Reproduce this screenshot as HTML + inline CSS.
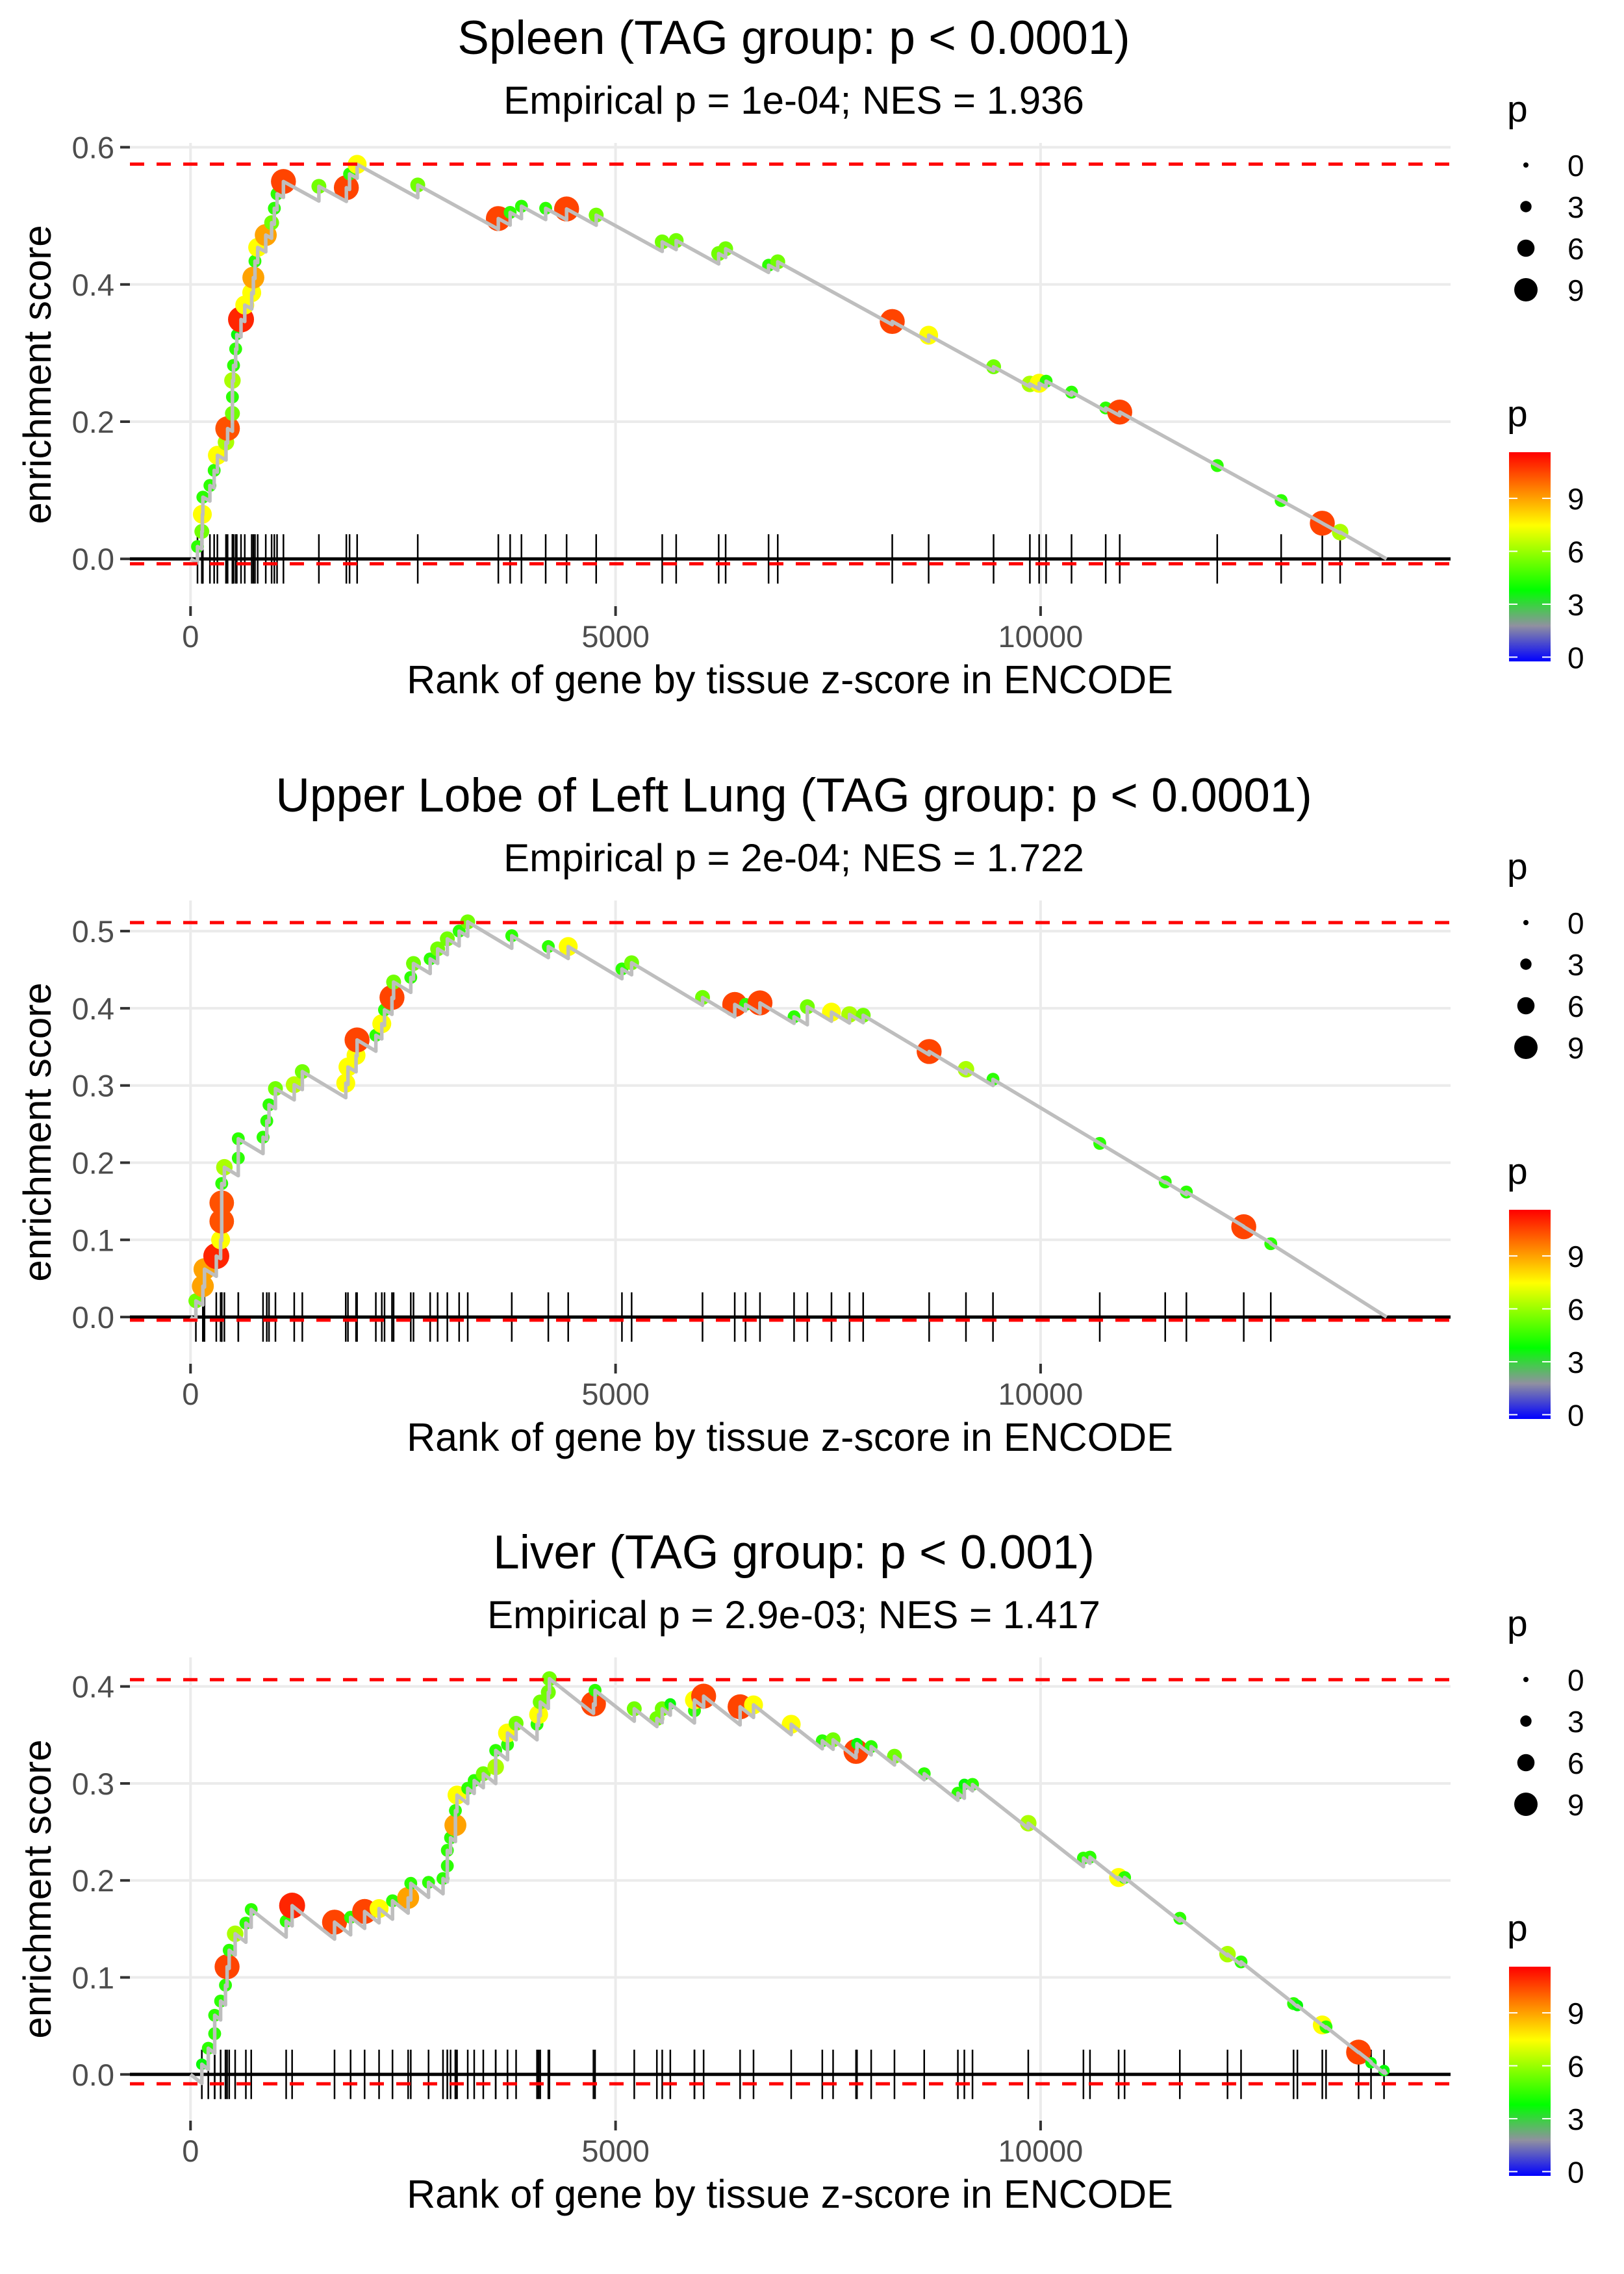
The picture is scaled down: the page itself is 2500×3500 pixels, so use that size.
<!DOCTYPE html>
<html><head><meta charset="utf-8">
<style>
html,body{margin:0;padding:0;background:#fff;}
svg{display:block;font-family:"Liberation Sans",Arial,sans-serif;}
</style></head>
<body>
<svg id="chart" width="2500" height="3500" viewBox="0 0 2500 3500" xmlns="http://www.w3.org/2000/svg">
<defs>
<linearGradient id="pgrad" x1="0" y1="1" x2="0" y2="0">
<stop offset="0" stop-color="#0000ff"/>
<stop offset="0.17" stop-color="#9090a0"/>
<stop offset="0.34" stop-color="#00ff00"/>
<stop offset="0.65" stop-color="#ffff00"/>
<stop offset="1" stop-color="#ff0000"/>
</linearGradient>
</defs>
</svg>
<script>
// ---------- data ----------
const titles = ["Spleen (TAG group: p < 0.0001)", "Upper Lobe of Left Lung (TAG group: p < 0.0001)", "Liver (TAG group: p < 0.001)"];
const subtitles = ["Empirical p = 1e-04; NES = 1.936", "Empirical p = 2e-04; NES = 1.722", "Empirical p = 2.9e-03; NES = 1.417"];
const xTicks = [0, 5000, 10000];
const yTicks1 = [0, 0.2, 0.4, 0.6];
const yTicks2 = [0, 0.1, 0.2, 0.3, 0.4, 0.5];
const yTicks3 = [0, 0.1, 0.2, 0.3, 0.4];
const esMax = [0.5753, 0.511, 0.407];
const esMin = [-0.0072, -0.004, -0.0097];
const decline = [0.000068, 0.000066, 0.000069];
const endRank = 14070;
const sizeLegendVals = [0, 3, 6, 9];
const colorLegendVals = [0, 3, 6, 9];

const rank1 = [82,133,139,145,228,278,316,417,436,493,493,493,506,531,544,594,638,720,739,758,790,885,954,986,1018,1093,1510,1833,1871,1960,2673,3621,3760,3893,4178,4424,4772,5549,5713,6213,6295,6800,6908,8255,8683,9447,9874,9983,10065,10364,10766,10931,12078,12830,13314,13524];
const es1 = [0.018,0.04,0.065,0.09,0.107,0.129,0.151,0.17,0.19,0.212,0.236,0.26,0.282,0.306,0.327,0.349,0.37,0.388,0.41,0.434,0.454,0.472,0.49,0.511,0.532,0.55,0.543,0.541,0.561,0.575,0.545,0.496,0.505,0.514,0.511,0.51,0.501,0.462,0.464,0.445,0.452,0.428,0.433,0.346,0.326,0.28,0.255,0.256,0.259,0.243,0.22,0.214,0.136,0.085,0.052,0.039];
const p1 = [4.5,5.5,7.5,4.5,4.5,4.5,7.5,6.3,10.3,5.5,4.5,6.3,4.5,4.5,3.8,11,7.5,7.5,9,4.5,7.5,9,5.5,4.5,4.5,10.5,5.5,10.5,4.5,7.5,5.5,10.5,4.5,4.5,4.5,10.5,5.5,5.5,5.5,5.5,5.5,4.5,5.5,10.5,7.5,5.5,6.3,7.5,4.5,4.5,4.5,10.5,4.5,4.5,10.5,6.3];

const rank2 = [63,145,164,303,354,367,367,367,398,562,562,853,897,923,999,1220,1315,1826,1852,1947,1959,2180,2250,2282,2370,2389,2591,2623,2819,2907,3021,3160,3261,3779,4209,4443,5075,5189,6023,6402,6529,6699,7100,7256,7540,7752,7913,8689,9122,9440,10696,11466,11715,12390,12708];
const es2 = [0.021,0.04,0.062,0.079,0.1,0.124,0.148,0.173,0.194,0.206,0.231,0.233,0.254,0.275,0.296,0.301,0.318,0.303,0.324,0.339,0.359,0.365,0.38,0.398,0.414,0.434,0.44,0.458,0.464,0.477,0.49,0.5,0.512,0.494,0.48,0.48,0.451,0.459,0.414,0.405,0.405,0.407,0.389,0.402,0.395,0.392,0.391,0.344,0.321,0.308,0.225,0.175,0.162,0.117,0.095];
const p2 = [5.5,9,9,11,7.5,10.3,10.3,4.5,6.3,4.5,4.5,4.5,4.5,4.5,5.5,6.5,5.5,7.5,7.5,7.5,10.5,4.5,7.5,4.5,10.5,5.5,4.5,5.5,4.5,5.5,5.5,4.5,5.5,4.5,4.5,7.5,4.5,5.5,5.5,10.5,4.5,10.5,4.5,5.5,7.5,6.3,5.5,10.5,6.3,4.5,4.5,4.5,4.5,10.5,4.5];

const rank3 = [133,209,284,284,354,411,430,455,525,651,714,1125,1195,1694,1883,2048,2218,2376,2560,2591,2800,2970,3021,3021,3059,3116,3116,3135,3261,3337,3444,3590,3590,3729,3729,3830,4076,4095,4114,4209,4222,4740,4759,5220,5486,5549,5644,5928,5928,6036,6465,6623,7066,7432,7559,7829,7840,8007,8281,8631,9027,9103,9199,9855,10504,10581,10918,10988,11638,12199,12358,12976,13021,13314,13358,13741,13887,14040];
const es3 = [0.0105,0.027,0.042,0.061,0.0756,0.092,0.111,0.128,0.145,0.156,0.17,0.158,0.174,0.157,0.162,0.168,0.171,0.179,0.182,0.197,0.198,0.202,0.215,0.231,0.244,0.257,0.272,0.288,0.295,0.303,0.31,0.317,0.334,0.34,0.352,0.362,0.361,0.371,0.384,0.394,0.408,0.382,0.396,0.377,0.367,0.377,0.382,0.375,0.386,0.39,0.379,0.381,0.361,0.344,0.345,0.333,0.341,0.338,0.328,0.31,0.29,0.299,0.299,0.259,0.223,0.224,0.203,0.203,0.161,0.124,0.116,0.073,0.071,0.051,0.049,0.023,0.012,0.004];
const p3 = [3.8,4.5,4.5,4.5,4.5,4.5,10.5,4.5,6.3,4.5,4.5,4.5,11,10.5,4.5,10.5,7.5,4.5,9,4.5,4.5,4.5,4.5,4.5,4.5,9,4.5,7.5,4.5,4.5,5.5,6.3,4.5,4.5,7.5,5.5,4.5,7.5,5.5,5.5,5.5,10.5,4.5,5.5,5.5,5.5,3.8,4.5,7.5,10.5,10.5,7.5,7.5,4.5,5.5,10.5,3.8,4.5,5.5,4.5,4.5,3.8,4.5,6.3,4.5,4.5,7.5,4.5,4.5,6.3,4.5,4.5,3.8,7.5,4.5,10.5,3.8,3.8];

// ---------- layout ----------
const NS = "http://www.w3.org/2000/svg";
const svg = document.getElementById("chart");
const PL = 200, PR = 2233, PH = 713;
const panelTops = [220, 1386, 2551];
const zeroY = [860.2, 2027.1, 3192.8];
const pxPerUnit = [1056, 1188, 1492.8];
const allRanks = [rank1, rank2, rank3];
const allEs = [es1, es2, es3];
const allP = [p1, p2, p3];
const allYTicks = [yTicks1, yTicks2, yTicks3];

function X(r) { return 293.3 + 0.13086 * r; }
function mk(tag, attrs, parent) {
  const e = document.createElementNS(NS, tag);
  for (const k in attrs) e.setAttribute(k, attrs[k]);
  (parent || svg).appendChild(e);
  return e;
}
const stops = [[0,[0,0,255]],[2.0,[144,144,160]],[3.9,[0,255,0]],[7.5,[255,255,0]],[11.6,[255,0,0]]];
function pColor(v) {
  if (v <= stops[0][0]) return "rgb(0,0,255)";
  for (let i = 1; i < stops.length; i++) {
    if (v <= stops[i][0]) {
      const t = (v - stops[i-1][0]) / (stops[i][0] - stops[i-1][0]);
      const a = stops[i-1][1], b = stops[i][1];
      return "rgb(" + a.map((c, j) => Math.round(c + (b[j] - c) * t)).join(",") + ")";
    }
  }
  return "rgb(255,0,0)";
}
function pRadius(v) { return 4.5 + 1.55 * Math.max(v - 1, 0); }

for (let k = 0; k < 3; k++) {
  const top = panelTops[k], bot = top + PH;
  const Y = es => zeroY[k] - pxPerUnit[k] * es;
  const g = mk("g", {});
  
  

  const t = mk("text", {x: 1222, y: top - 137, "text-anchor": "middle", "font-size": 73, fill: "#000"}, g);
  t.textContent = titles[k];
  
  
  const st = mk("text", {x: 1222, y: top - 45, "text-anchor": "middle", "font-size": 60, fill: "#000"}, g);
  st.textContent = subtitles[k];
  
  

  for (const v of allYTicks[k]) {
    const gl = mk("line", {x1: PL, x2: PR, y1: Y(v), y2: Y(v), stroke: "#ebebeb", "stroke-width": 4}, g);
    
    
    const tk = mk("line", {x1: 185, x2: 200, y1: Y(v), y2: Y(v), stroke: "#333", "stroke-width": 4}, g);
    
    
    const lb = mk("text", {x: 176, y: Y(v) + 17, "text-anchor": "end", "font-size": 47, fill: "#4d4d4d"}, g);
    lb.textContent = v.toFixed(1);
    
    
  }
  for (const v of xTicks) {
    const gl = mk("line", {x1: X(v), x2: X(v), y1: top, y2: bot, stroke: "#ebebeb", "stroke-width": 4}, g);
    
    
    const tk = mk("line", {x1: X(v), x2: X(v), y1: bot, y2: bot + 15, stroke: "#333", "stroke-width": 4}, g);
    
    
    const lb = mk("text", {x: X(v), y: bot + 63, "text-anchor": "middle", "font-size": 47, fill: "#4d4d4d"}, g);
    lb.textContent = String(v);
    
    
  }
  const xt = mk("text", {x: 1216, y: bot + 134, "text-anchor": "middle", "font-size": 61, fill: "#000"}, g);
  xt.textContent = "Rank of gene by tissue z-score in ENCODE";
  
  
  const yt = mk("text", {x: 0, y: 0, "text-anchor": "middle", "font-size": 60, fill: "#000", transform: "translate(78," + (top + PH / 2) + ") rotate(-90)"}, g);
  yt.textContent = "enrichment score";
  
  

  const zl = mk("line", {x1: PL, x2: PR, y1: Y(0), y2: Y(0), stroke: "#000", "stroke-width": 5}, g);
  
  

  const R = allRanks[k], E = allEs[k], P = allP[k];
  for (let i = 0; i < R.length; i++) {
    const rl = mk("line", {x1: X(R[i]), x2: X(R[i]), y1: Y(0) - 38, y2: Y(0) + 38, stroke: "#000", "stroke-width": 2.5}, g);
    
    
  }
  for (let i = 0; i < R.length; i++) {
    const c = mk("circle", {cx: X(R[i]), cy: Y(E[i]), r: pRadius(P[i]), fill: pColor(P[i])}, g);
    
    
  }
  let d = "M" + X(0) + "," + Y(0);
  let prevR = 0, prevE = 0;
  const pre = [];
  for (let i = 0; i < R.length; i++) {
    const pe = prevE - decline[k] * (R[i] - prevR);
    pre.push(pe);
    d += " L" + X(R[i]).toFixed(1) + "," + Y(pe).toFixed(1) + " L" + X(R[i]).toFixed(1) + "," + Y(E[i]).toFixed(1);
    prevR = R[i]; prevE = E[i];
  }
  d += " L" + X(endRank) + "," + Y(0);
  for (let i = 0; i < R.length; i++) {
    const b = mk("circle", {cx: X(R[i]), cy: Y(pre[i]), r: 2.5, fill: "#0000ff"}, g);
    
    
  }
  const ln = mk("path", {d: d, fill: "none", stroke: "#bebebe", "stroke-width": 5.5, "stroke-linejoin": "round"}, g);
  
  

  for (const v of [esMax[k], esMin[k]]) {
    const dl = mk("line", {x1: PL, x2: PR, y1: Y(v), y2: Y(v), stroke: "#ff0000", "stroke-width": 5, "stroke-dasharray": "22,19"}, g);
    
    
  }

  const lg = mk("g", {}, g);
  
  
  const lt = mk("text", {x: 2320, y: top - 33, "font-size": 57, fill: "#000"}, lg);
  lt.textContent = "p";
  
  
  const rowY = [34, 98, 162, 226];
  const rr = [4, 8.7, 13.3, 18];
  for (let i = 0; i < sizeLegendVals.length; i++) {
    const c = mk("circle", {cx: 2349, cy: top + rowY[i], r: rr[i], fill: "#000"}, lg);
    
    
    const tx = mk("text", {x: 2413, y: top + rowY[i] + 17, "font-size": 46, fill: "#000"}, lg);
    tx.textContent = String(sizeLegendVals[i]);
    
    
  }
  const cg = mk("g", {}, g);
  
  
  const ct = mk("text", {x: 2320, y: top + 436, "font-size": 57, fill: "#000"}, cg);
  ct.textContent = "p";
  
  
  const cbTop = top + 476, cbBot = top + 798;
  const cb = mk("rect", {x: 2323, y: cbTop, width: 64, height: cbBot - cbTop, fill: "url(#pgrad)"}, cg);
  
  
  const cy = v => top + 791.4 - 27.15 * v;
  for (const v of colorLegendVals) {
    for (const x0 of [2323, 2374]) {
      const tk = mk("line", {x1: x0, x2: x0 + 13, y1: cy(v), y2: cy(v), stroke: "#fff", "stroke-width": 2}, cg);
      
      
    }
    const tx = mk("text", {x: 2413, y: cy(v) + 17, "font-size": 46, fill: "#000"}, cg);
    tx.textContent = String(v);
    
    
  }
}
</script>
</body></html>
